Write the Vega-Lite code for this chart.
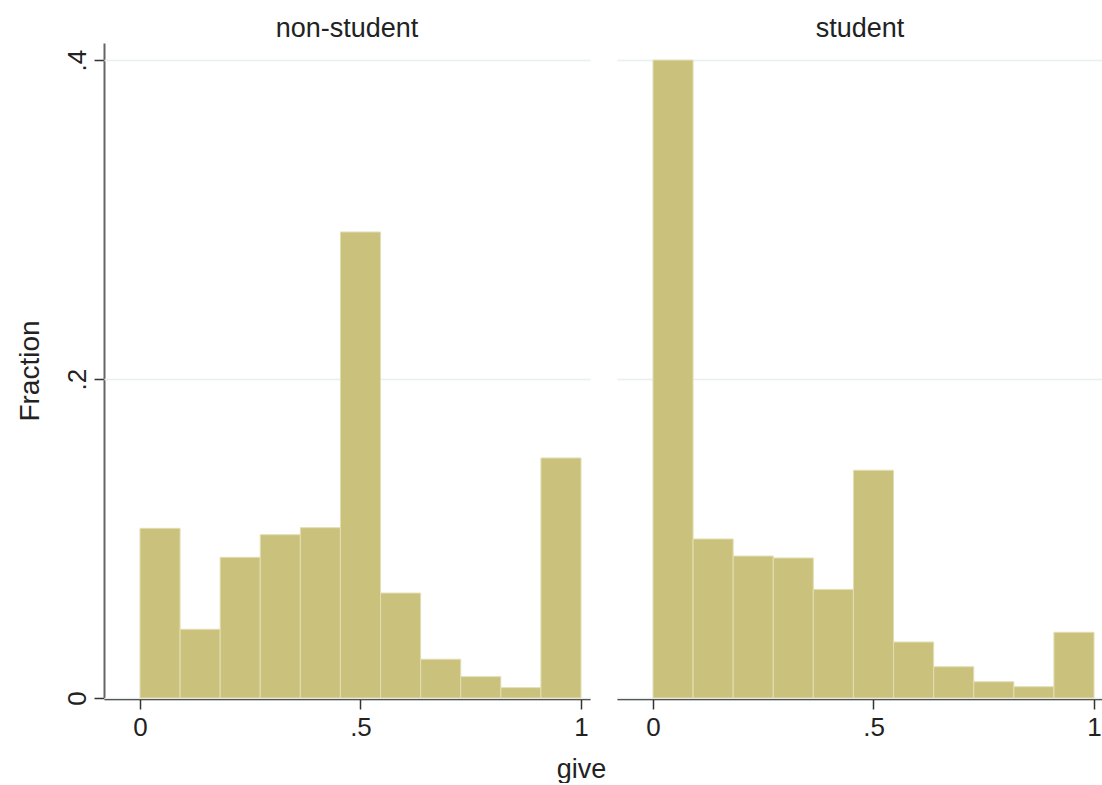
{
  "$schema": "https://vega.github.io/schema/vega-lite/v6.json",
  "padding": {"left": 16, "top": 15, "right": 0, "bottom": 0},
  "title": {
    "text": "give",
    "orient": "bottom",
    "anchor": "middle",
    "font": "Liberation Sans",
    "fontSize": 27,
    "fontWeight": "normal",
    "color": "#222222",
    "offset": 17,
    "dx": 22
  },
  "data": {
    "values": [
      {"group": "non-student", "bin_start": 0.0, "bin_end": 0.0909, "fraction": 0.1064},
      {"group": "non-student", "bin_start": 0.0909, "bin_end": 0.1818, "fraction": 0.0431},
      {"group": "non-student", "bin_start": 0.1818, "bin_end": 0.2727, "fraction": 0.0882},
      {"group": "non-student", "bin_start": 0.2727, "bin_end": 0.3636, "fraction": 0.1024},
      {"group": "non-student", "bin_start": 0.3636, "bin_end": 0.4545, "fraction": 0.1068},
      {"group": "non-student", "bin_start": 0.4545, "bin_end": 0.5455, "fraction": 0.2922},
      {"group": "non-student", "bin_start": 0.5455, "bin_end": 0.6364, "fraction": 0.0658},
      {"group": "non-student", "bin_start": 0.6364, "bin_end": 0.7273, "fraction": 0.0243},
      {"group": "non-student", "bin_start": 0.7273, "bin_end": 0.8182, "fraction": 0.0134},
      {"group": "non-student", "bin_start": 0.8182, "bin_end": 0.9091, "fraction": 0.0065},
      {"group": "non-student", "bin_start": 0.9091, "bin_end": 1.0, "fraction": 0.1505},
      {"group": "student", "bin_start": 0.0, "bin_end": 0.0909, "fraction": 0.4000},
      {"group": "student", "bin_start": 0.0909, "bin_end": 0.1818, "fraction": 0.0997},
      {"group": "student", "bin_start": 0.1818, "bin_end": 0.2727, "fraction": 0.0890},
      {"group": "student", "bin_start": 0.2727, "bin_end": 0.3636, "fraction": 0.0878},
      {"group": "student", "bin_start": 0.3636, "bin_end": 0.4545, "fraction": 0.0681},
      {"group": "student", "bin_start": 0.4545, "bin_end": 0.5455, "fraction": 0.1428},
      {"group": "student", "bin_start": 0.5455, "bin_end": 0.6364, "fraction": 0.0351},
      {"group": "student", "bin_start": 0.6364, "bin_end": 0.7273, "fraction": 0.0196},
      {"group": "student", "bin_start": 0.7273, "bin_end": 0.8182, "fraction": 0.0102},
      {"group": "student", "bin_start": 0.8182, "bin_end": 0.9091, "fraction": 0.0071},
      {"group": "student", "bin_start": 0.9091, "bin_end": 1.0, "fraction": 0.0412}
    ]
  },
  "facet": {
    "column": {
      "field": "group",
      "type": "nominal",
      "sort": ["non-student", "student"],
      "header": {
        "title": null,
        "labelFont": "Liberation Sans",
        "labelFontSize": 27,
        "labelColor": "#222222",
        "labelPadding": 0
      }
    }
  },
  "spacing": 27,
  "spec": {
    "width": 486,
    "height": 655,
    "mark": {"type": "bar", "fill": "#cac27c", "stroke": "#e2deb4", "strokeWidth": 1},
    "encoding": {
      "x": {
        "field": "bin_start",
        "type": "quantitative",
        "scale": {"domain": [-0.0816, 1.0204], "nice": false, "zero": false},
        "axis": {
          "title": null,
          "values": [0, 0.5, 1],
          "labelExpr": "replace(toString(datum.value), '0.', '.')",
          "labelPadding": 5,
          "grid": false
        }
      },
      "x2": {"field": "bin_end"},
      "y": {
        "field": "fraction",
        "type": "quantitative",
        "scale": {"domain": [0, 0.4107], "nice": false},
        "axis": {
          "title": "Fraction",
          "values": [0, 0.2, 0.4],
          "labelExpr": "replace(toString(datum.value), '0.', '.')",
          "labelAngle": -90,
          "labelAlign": "center",
          "labelBaseline": "bottom",
          "labelPadding": 4,
          "grid": true,
          "domainColor": "#666666",
          "domainWidth": 2,
          "titlePadding": 20
        }
      },
      "y2": {"datum": 0}
    }
  },
  "config": {
    "view": {"stroke": null},
    "font": "Liberation Sans",
    "axis": {
      "labelFont": "Liberation Sans",
      "labelFontSize": 26,
      "labelColor": "#222222",
      "titleFont": "Liberation Sans",
      "titleFontSize": 28,
      "titleFontWeight": "normal",
      "titleColor": "#222222",
      "tickSize": 10,
      "tickColor": "#333333",
      "tickWidth": 1.5,
      "domainColor": "#222222",
      "domainWidth": 1.5,
      "gridColor": "#e6f0f0",
      "gridWidth": 1.5
    }
  }
}
